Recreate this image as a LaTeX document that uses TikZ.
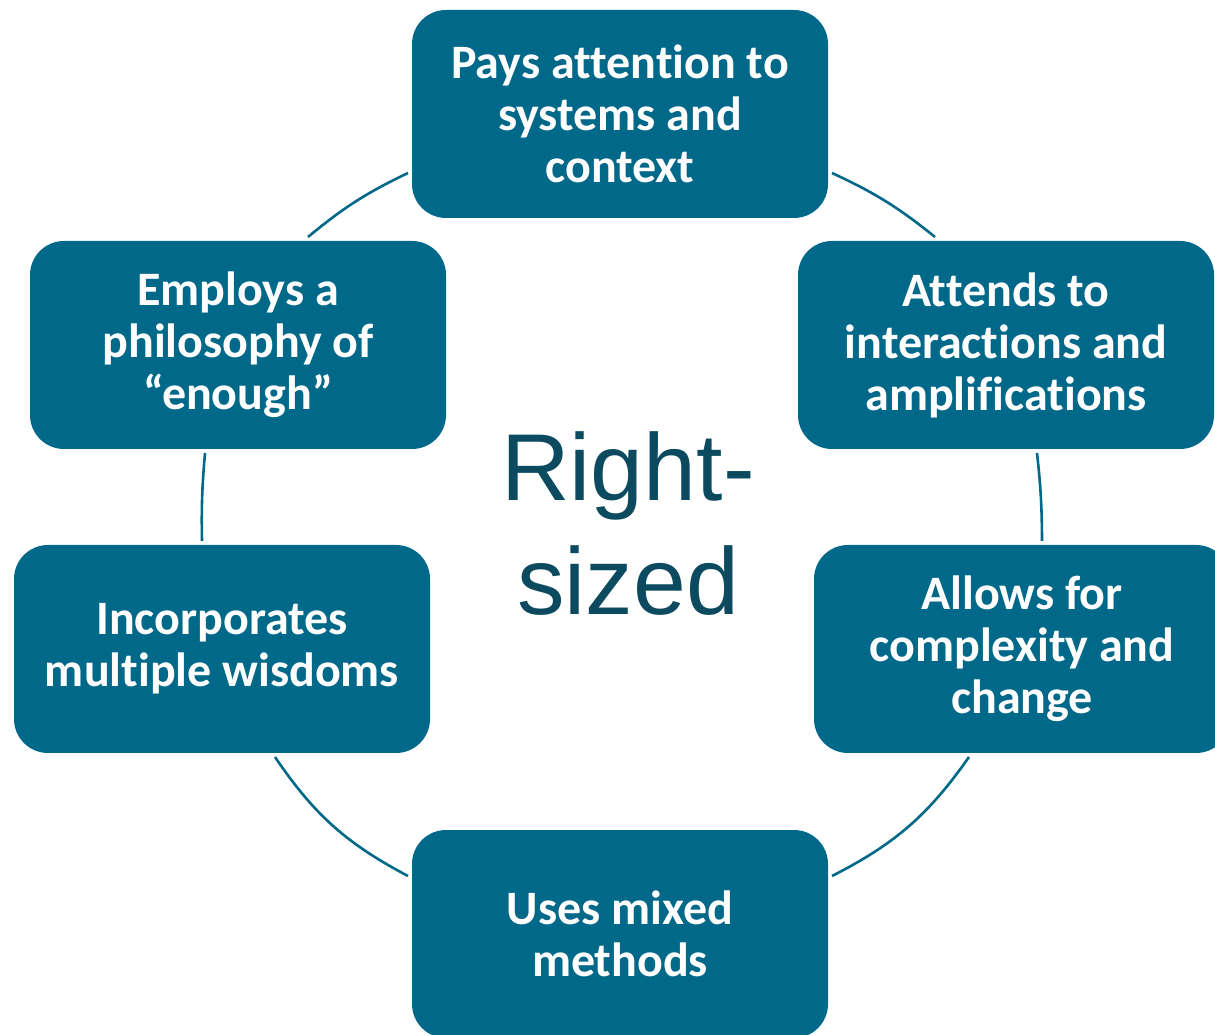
\documentclass[tikz,border=0pt]{standalone}
\usepackage{fontspec}
\usepackage{xcolor}
\newfontfamily\traitfont[Ligatures={NoCommon,NoContextual},Contextuals=NoAlternate,RawFeature={-liga;-clig;-calt}]{Carlito}
\newfontfamily\hubfont{Liberation Sans}
\definecolor{boxteal}{HTML}{006888}
\definecolor{hubteal}{HTML}{0B4A5F}
\tikzset{%
	trait/.style = {rectangle, rounded corners=34pt, fill=boxteal, minimum width=416pt, minimum height=208pt, outer sep=4pt, text=white, align=center, font=\traitfont\bfseries\fontsize{48}{52}\selectfont}, % Trait box
	hub/.style   = {align=center, text=hubteal, font=\hubfont\fontsize{95}{114}\selectfont}, % Centre label
	ring/.style  = {draw=boxteal, line width=2.6pt}, % Cycle arc
}

\begin{document}
\begin{tikzpicture}[x=1pt,y=1pt]
	\useasboundingbox (0,0) rectangle (1215,1034);
	\clip (0,0) rectangle (1215,1034);
	
	\node [hub] (hub) at (628,510) {Right-\\sized};
	\node [trait] (ctx) at (620,920) {Pays attention to\\systems and\\context};
	\node [trait] (amp) at (1006,689) {Attends to\\interactions and\\amplifications};
	\node [trait] (cplx) at (1022,385) {Allows for\\complexity and\\change};
	\node [trait] (mixed) at (620,100) {Uses mixed\\methods};
	\node [trait] (wisdom) at (222,385) {Incorporates\\multiple wisdoms};
	\node [trait] (enough) at (238,689) {Employs a\\philosophy of\\“enough”};
	
	% arcs of the cycle, clockwise from the top
	\draw[ring] ([yshift=-59pt]ctx.east) to[bend left=7] ([xshift=-71pt]amp.north);
	\draw[ring] ([xshift=31pt]amp.south) to[bend left=3] ([xshift=20pt]cplx.north);
	\draw[ring] ([xshift=-53pt]cplx.south) to[bend left=14] ([yshift=58pt]mixed.east);
	\draw[ring] ([yshift=58pt]mixed.west) to[bend left=14] ([xshift=53pt]wisdom.south);
	\draw[ring] ([xshift=-20pt]wisdom.north) to[bend left=3] ([xshift=-33pt]enough.south);
	\draw[ring] ([xshift=70pt]enough.north) to[bend left=7] ([yshift=-59pt]ctx.west);
	
\end{tikzpicture}
\end{document}
